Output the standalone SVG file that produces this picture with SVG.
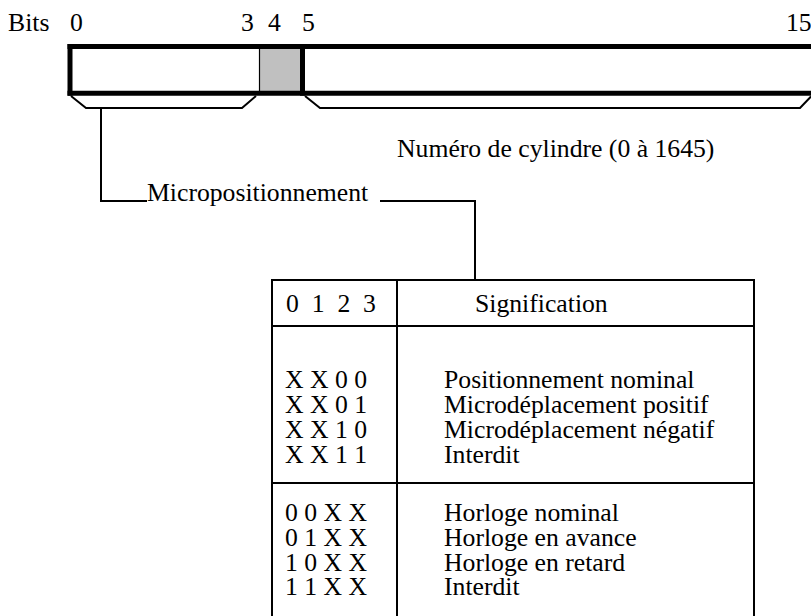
<svg xmlns="http://www.w3.org/2000/svg" width="811" height="616" viewBox="0 0 811 616">
<style>
text{font-family:"Liberation Serif","Times New Roman",serif;font-size:25.7px;fill:#000;white-space:pre}
.thick{stroke:#000;stroke-width:5;fill:none}
.thin{stroke:#000;stroke-width:2;fill:none}
.ln{stroke:#000;stroke-width:2;fill:none}
</style>
<rect width="811" height="616" fill="#fff"/>
<g id="bit-labels">
<text x="8" y="31">Bits</text>
<text x="70" y="31">0</text>
<text x="241" y="31">3</text>
<text x="268" y="31">4</text>
<text x="302" y="31">5</text>
<text x="786" y="31">15</text>
</g>
<g id="register">
<rect x="259.5" y="46.5" width="43" height="46.5" fill="#c0c0c0"/>
<line class="thick" x1="67.5" y1="46.5" x2="811" y2="46.5"/>
<line class="thick" x1="67.5" y1="93.2" x2="811" y2="93.2"/>
<line class="thick" x1="70" y1="44" x2="70" y2="95.7"/>
<line x1="259.5" y1="46.5" x2="259.5" y2="93.2" stroke="#000" stroke-width="1.2"/>
<line class="thick" x1="302.5" y1="44" x2="302.5" y2="95.7"/>
</g>
<g id="bracket-micro">
<polyline class="ln" points="71,96 86,108 242,108 256,96"/>
</g>
<g id="bracket-cyl">
<polyline class="ln" points="305,96 320,108 800,108 811,96.5"/>
</g>
<g id="label-cylindre">
<text x="397" y="157">Numéro de cylindre (0 à 1645)</text>
</g>
<g id="label-micro">
<text x="147" y="201">Micropositionnement</text>
</g>
<g id="connectors">
<polyline class="ln" points="101,108 101,201 147,201"/>
<polyline class="ln" points="380,201 475,201 475,280"/>
</g>
<g id="table">
<polyline class="ln" points="272,616 272,280 754,280 754,616"/>
<line class="ln" x1="397" y1="280" x2="397" y2="616"/>
<line class="ln" x1="272" y1="326" x2="754" y2="326"/>
<line class="ln" x1="272" y1="483" x2="754" y2="483"/>
<text x="286" y="312">0  1  2  3</text>
<text x="475" y="312">Signification</text>
<text x="285" y="388">X X 0 0</text>
<text x="285" y="413">X X 0 1</text>
<text x="285" y="438">X X 1 0</text>
<text x="285" y="463">X X 1 1</text>
<text x="444" y="388">Positionnement nominal</text>
<text x="444" y="413">Microdéplacement positif</text>
<text x="444" y="438">Microdéplacement négatif</text>
<text x="444" y="463">Interdit</text>
<text x="285" y="521">0 0 X X</text>
<text x="285" y="546">0 1 X X</text>
<text x="285" y="571">1 0 X X</text>
<text x="285" y="595">1 1 X X</text>
<text x="444" y="521">Horloge nominal</text>
<text x="444" y="546">Horloge en avance</text>
<text x="444" y="571">Horloge en retard</text>
<text x="444" y="595">Interdit</text>
</g>
</svg>
